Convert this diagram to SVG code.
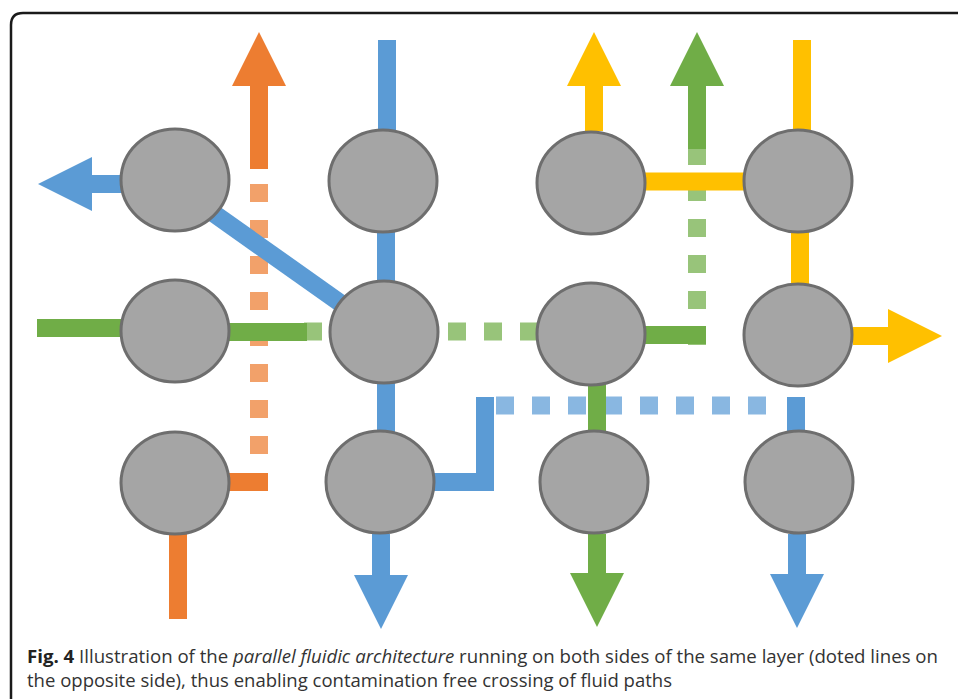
<svg xmlns="http://www.w3.org/2000/svg" width="958" height="699" viewBox="0 0 958 699">
  <style>
    .ch { fill: none; stroke-width: 18; stroke-linecap: butt; stroke-linejoin: miter; }
    .dot { stroke-dasharray: 18 18; stroke-opacity: 0.72; }
    .blue { stroke: #5b9bd5; }
    .orange { stroke: #ed7d31; }
    .green { stroke: #70ad47; }
    .yellow { stroke: #ffc000; }
    .node ellipse { fill: #a5a5a5; stroke: #6e6e6e; stroke-width: 3; }
    .cap { font-family: "Open Sans", "Liberation Sans", Arial, sans-serif; font-size: 18px; fill: #333333; }
  </style>
  <defs>
    <marker id="hBlue" markerUnits="userSpaceOnUse" markerWidth="54" markerHeight="54" viewBox="0 0 54 54" refX="0" refY="27" orient="auto">
      <path d="M0 0 L54 27 L0 54 Z" fill="#5b9bd5"/>
    </marker>
    <marker id="hOrange" markerUnits="userSpaceOnUse" markerWidth="54" markerHeight="54" viewBox="0 0 54 54" refX="0" refY="27" orient="auto">
      <path d="M0 0 L54 27 L0 54 Z" fill="#ed7d31"/>
    </marker>
    <marker id="hGreen" markerUnits="userSpaceOnUse" markerWidth="54" markerHeight="54" viewBox="0 0 54 54" refX="0" refY="27" orient="auto">
      <path d="M0 0 L54 27 L0 54 Z" fill="#70ad47"/>
    </marker>
    <marker id="hYellow" markerUnits="userSpaceOnUse" markerWidth="54" markerHeight="54" viewBox="0 0 54 54" refX="0" refY="27" orient="auto">
      <path d="M0 0 L54 27 L0 54 Z" fill="#ffc000"/>
    </marker>
  </defs>

  <rect width="958" height="699" fill="#ffffff"/>
  <!-- figure frame (open to the right and bottom) -->
  <path d="M11 699 V25 Q11 13 23 13 H958" fill="none" stroke="#1a1a1a" stroke-width="2.5"/>

  <g id="connectors">
    <!-- channels on the opposite side (dotted) -->
    <path class="ch dot orange" d="M259 184 V456"/>
    <path class="ch dot green" d="M304 331.5 H538"/>
    <path class="ch dot green" d="M697 345 V147"/>
    <path class="ch dot blue" d="M496 405.5 H768"/>

    <!-- blue channels -->
    <path class="ch blue" d="M387 40 V140"/>
    <path class="ch blue" d="M386 181 V482"/>
    <path class="ch blue" d="M175 186 L384 334"/>
    <path class="ch blue" d="M122 184 H92" marker-end="url(#hBlue)"/>
    <path class="ch blue" d="M380 482 H485 V397"/>
    <path class="ch blue" d="M796 397 V482"/>
    <path class="ch blue" d="M381 534 V575" marker-end="url(#hBlue)"/>
    <path class="ch blue" d="M797 534 V574" marker-end="url(#hBlue)"/>

    <!-- orange channels -->
    <path class="ch orange" d="M259 169 V86" marker-end="url(#hOrange)"/>
    <path class="ch orange" d="M175 482 H268"/>
    <path class="ch orange" d="M178 483 V619"/>

    <!-- green channels -->
    <path class="ch green" d="M37 328 H175"/>
    <path class="ch green" d="M175 332 H307"/>
    <path class="ch green" d="M591 335 H706"/>
    <path class="ch green" d="M697 149 V86" marker-end="url(#hGreen)"/>
    <path class="ch green" d="M597 334 V482"/>
    <path class="ch green" d="M597 534 V573" marker-end="url(#hGreen)"/>

    <!-- yellow channels -->
    <path class="ch yellow" d="M594 131 V86" marker-end="url(#hYellow)"/>
    <path class="ch yellow" d="M591 181.5 H798"/>
    <path class="ch yellow" d="M802 40 V181"/>
    <path class="ch yellow" d="M800 181 V335"/>
    <path class="ch yellow" d="M853 336 H888" marker-end="url(#hYellow)"/>
  </g>

  <!-- chambers -->
  <g id="node-a" class="node"><ellipse cx="175" cy="180" rx="54" ry="51"/></g>
  <g id="node-b" class="node"><ellipse cx="383" cy="181" rx="54" ry="51"/></g>
  <g id="node-c" class="node"><ellipse cx="591" cy="183" rx="54" ry="51"/></g>
  <g id="node-d" class="node"><ellipse cx="798" cy="181" rx="54" ry="51"/></g>
  <g id="node-e" class="node"><ellipse cx="175" cy="331" rx="54" ry="51"/></g>
  <g id="node-f" class="node"><ellipse cx="384" cy="332" rx="54" ry="51"/></g>
  <g id="node-g" class="node"><ellipse cx="591" cy="334" rx="54" ry="51"/></g>
  <g id="node-h" class="node"><ellipse cx="798" cy="335" rx="54" ry="51"/></g>
  <g id="node-i" class="node"><ellipse cx="175" cy="483" rx="54" ry="51"/></g>
  <g id="node-j" class="node"><ellipse cx="380" cy="482" rx="54" ry="51"/></g>
  <g id="node-k" class="node"><ellipse cx="594" cy="482" rx="54" ry="51"/></g>
  <g id="node-l" class="node"><ellipse cx="799" cy="482" rx="54" ry="51"/></g>

  <!-- caption -->
  <text class="cap" x="27" y="663" textLength="911" lengthAdjust="spacingAndGlyphs"><tspan font-weight="bold" fill="#222222">Fig. 4</tspan> Illustration of the <tspan font-style="italic">parallel fluidic architecture</tspan> running on both sides of the same layer (doted lines on</text>
  <text class="cap" x="27" y="687" textLength="645" lengthAdjust="spacingAndGlyphs">the opposite side), thus enabling contamination free crossing of fluid paths</text>
</svg>
